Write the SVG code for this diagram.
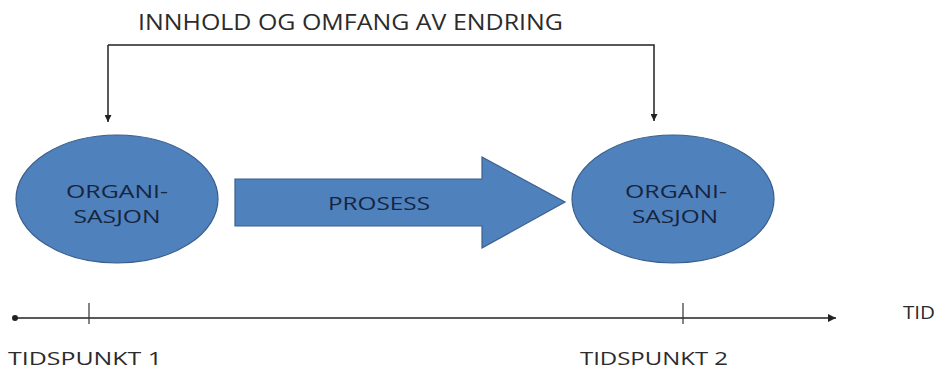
<svg xmlns="http://www.w3.org/2000/svg" width="941" height="369" viewBox="0 0 941 369">
<style>
  .lbl { font-family: "Open Sans", "Liberation Sans", sans-serif; fill: #2b2b2b; }
  .node { fill: #4f81bd; stroke: #3a5f8c; stroke-width: 1.2; }
  .ntext { font-family: "Open Sans", "Liberation Sans", sans-serif; fill: #17253f; font-size: 18px; text-anchor: middle; }
  .line { fill: none; stroke: #222; stroke-width: 1.5; }
  .tick { stroke: #333; stroke-width: 1.2; }
</style>
<defs>
  <marker id="ah" viewBox="0 0 10 10" refX="10" refY="5" markerWidth="7" markerHeight="7" markerUnits="userSpaceOnUse" orient="auto">
    <path d="M0,0 L10,5 L0,10 Z" fill="#222"/>
  </marker>
  <marker id="ah2" viewBox="0 0 10 10" refX="10" refY="5" markerWidth="9" markerHeight="8" markerUnits="userSpaceOnUse" orient="auto">
    <path d="M0,0 L10,5 L0,10 Z" fill="#222"/>
  </marker>
  <marker id="dot" viewBox="0 0 10 10" refX="5" refY="5" markerWidth="6" markerHeight="6" markerUnits="userSpaceOnUse">
    <circle cx="5" cy="5" r="5" fill="#222"/>
  </marker>
</defs>
<rect width="941" height="369" fill="#ffffff"/>

<text class="lbl" x="138" y="30" font-size="21" textLength="425" lengthAdjust="spacingAndGlyphs">INNHOLD OG OMFANG AV ENDRING</text>

<g id="connectors">
  <polyline class="line" points="108,45 108,122" marker-end="url(#ah)"/>
  <polyline class="line" points="108,45 654,45 654,121" marker-end="url(#ah)"/>
  <line class="line" x1="15" y1="318" x2="836" y2="318" marker-start="url(#dot)" marker-end="url(#ah2)"/>
  <line class="tick" x1="89" y1="303" x2="89" y2="324"/>
  <line class="tick" x1="683" y1="303" x2="683" y2="324"/>
</g>

<g id="org1">
  <ellipse class="node" cx="117" cy="199" rx="101" ry="64"/>
  <text class="ntext" x="117" y="198" textLength="102" lengthAdjust="spacingAndGlyphs">ORGANI-</text>
  <text class="ntext" x="117" y="223" textLength="87" lengthAdjust="spacingAndGlyphs">SASJON</text>
</g>

<g id="prosess">
  <path class="node" d="M235,179 L482,179 L482,157 L565,202 L482,248 L482,226 L235,226 Z"/>
  <text class="ntext" x="379" y="210" textLength="102" lengthAdjust="spacingAndGlyphs">PROSESS</text>
</g>

<g id="org2">
  <ellipse class="node" cx="673" cy="199" rx="101" ry="64"/>
  <text class="ntext" x="676" y="198" textLength="102" lengthAdjust="spacingAndGlyphs">ORGANI-</text>
  <text class="ntext" x="675" y="223" textLength="86" lengthAdjust="spacingAndGlyphs">SASJON</text>
</g>

<text class="lbl" x="903" y="319" font-size="18" textLength="32" lengthAdjust="spacingAndGlyphs">TID</text>
<text class="lbl" x="8" y="365" font-size="18" textLength="154" lengthAdjust="spacingAndGlyphs">TIDSPUNKT 1</text>
<text class="lbl" x="580" y="365" font-size="18" textLength="148" lengthAdjust="spacingAndGlyphs">TIDSPUNKT 2</text>
</svg>
